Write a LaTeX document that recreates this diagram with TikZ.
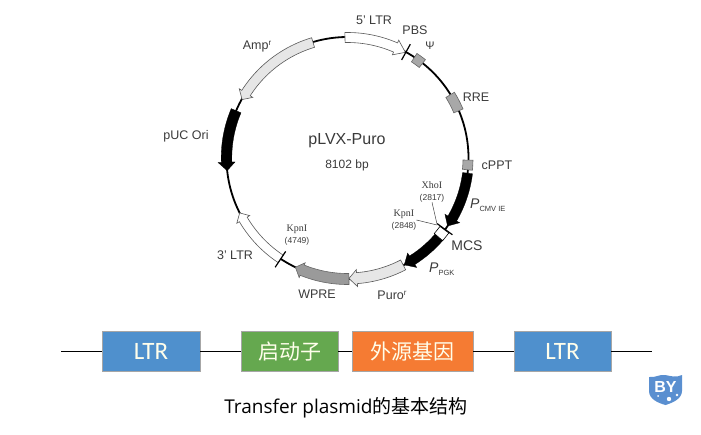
\documentclass[tikz,border=0pt]{standalone}
\usepackage{fontspec}
\setmainfont{Liberation Sans}
\newfontfamily\serifx{Liberation Serif}
\newfontfamily\cjkf{Noto Sans CJK SC}
\newfontfamily\capf{Open Sans}
\newfontfamily\boxf{Carlito}
\definecolor{ink}{HTML}{3A3A3A}
\definecolor{ltrblue}{HTML}{4F90CD}
\definecolor{promgreen}{HTML}{65A84F}
\definecolor{geneorange}{HTML}{F57B33}
\definecolor{logoblue}{HTML}{5A8FD0}
\definecolor{featgrey}{HTML}{A8A8A8}
\definecolor{paleg}{HTML}{E6E6E6}
\definecolor{wpreg}{HTML}{9A9A9A}
\newcommand{\Pol}[2]{({347.5+(#2)*sin(#1)},{158-(#2)*cos(#1)})}
% style, tail angle, head start angle, tip angle, half width, head half width, radius
\newcommand{\plasarrow}[7]{%
  \path[#1] plot[domain=#2:#3,samples=24,smooth] ({347.5+(#7+#5)*sin(\x)},{158-(#7+#5)*cos(\x)})
    -- \Pol{#3}{#7+#6} -- \Pol{#4}{#7} -- \Pol{#3}{#7-#6}
    -- plot[domain=#3:#2,samples=24,smooth] ({347.5+(#7-#5)*sin(\x)},{158-(#7-#5)*cos(\x)}) -- cycle;}
\newcommand{\plasbox}[5]{%
  \path[#1] plot[domain=#2:#3,samples=8] ({347.5+(#4+#5)*sin(\x)},{158-(#4+#5)*cos(\x)})
    -- plot[domain=#3:#2,samples=8] ({347.5+(#4-#5)*sin(\x)},{158-(#4-#5)*cos(\x)}) -- cycle;}
\newcommand{\sitelabel}[2]{{\serifx\fontsize{10}{11}\selectfont #1}\\[-0.5pt]{\fontsize{8.5}{10}\selectfont #2}}
\tikzset{
  x=1pt,y=-1pt,
  backbone/.style={draw=black,line width=1.8pt},
  whitearrow/.style={draw=black!65,fill=white,line width=0.6pt},
  palearrow/.style={draw=black!65,fill=paleg,line width=0.6pt},
  darkarrow/.style={draw=black!60,fill=wpreg,line width=0.6pt},
  blackarrow/.style={draw=black,fill=black,line width=0.3pt},
  feature/.style={draw=black!60,fill=featgrey,line width=0.6pt},
  sitebox/.style={draw=black,fill=white,line width=0.6pt},
  tick/.style={draw=black,line width=1.2pt},
  leader/.style={draw=black!75,line width=0.5pt},
  lab/.style={text=ink,font=\fontsize{12.5}{14}\selectfont,inner sep=0pt},
  site/.style={text=ink,inner sep=0pt,align=center},
  elem/.style={draw=black!35,minimum height=40pt,inner sep=0pt,text=white!92!yellow},
  wire/.style={draw=black,line width=1.5pt},
}
\begin{document}
\begin{tikzpicture}
\useasboundingbox (0,0) rectangle (701,434);
\path[backbone] \Pol{0}{121} plot[domain=0:360,samples=120,smooth] ({347.5+121*sin(\x)},{158-121*cos(\x)}) -- cycle;
% features
\plasarrow{whitearrow}{-1.2}{23.5}{28.7}{5}{8}{120.5}
\plasarrow{palearrow}{343.4}{302.6}{299}{5}{8}{120.5}
\plasarrow{blackarrow}{293}{268}{264}{5.3}{8.5}{121}
\plasarrow{whitearrow}{213.5}{239.5}{243}{4.5}{7.5}{121}
\plasarrow{darkarrow}{179.3}{202}{205.5}{5.5}{8}{121}
\plasarrow{palearrow}{152.5}{175.5}{179.3}{5.5}{8.5}{120.5}
\plasarrow{blackarrow}{97.2}{120}{124.2}{5}{8.5}{121}
\plasarrow{blackarrow}{130}{147.7}{152}{5}{8.5}{121}
\plasbox{feature}{33.6}{38.4}{120.5}{5}
\plasbox{feature}{58.4}{67}{120.5}{5}
\plasbox{feature}{91}{95.6}{120.5}{5}
\plasbox{sitebox}{126.5}{131}{120.5}{5.5}
\draw[tick] \Pol{28.9}{112} -- \Pol{28.9}{130};
\draw[tick] \Pol{126.2}{111} -- \Pol{126.2}{130};
\draw[tick] \Pol{213.5}{112} -- \Pol{213.5}{131};
% texts
\node[lab] (t5ltr) at (374,20) {5' LTR};
\node[lab] (tpbs) at (415,30) {PBS};
\node[lab,font=\fontsize{11}{12}\selectfont] (tpsi) at (430,46) {Ψ};
\node[lab] (trre) at (476,97) {RRE};
\node[lab] (tcppt) at (497,165) {cPPT};
\node[lab] (tamp) at (257,46) {Amp\raisebox{4pt}{\fontsize{8}{9}\selectfont r}};
\node[lab] (tpuc) at (186,136) {pUC Ori};
\node[lab,font=\fontsize{16}{18}\selectfont] (tname) at (347,141) {pLVX-Puro};
\node[lab,font=\fontsize{12}{14}\selectfont] (tbp) at (347,165) {8102 bp};
\node[lab,anchor=west] (tcmv) at (470,205) {\fontsize{14}{15}\selectfont\itshape P\raisebox{-3pt}{\upshape\fontsize{7.5}{8}\selectfont CMV IE}};
\node[lab,font=\fontsize{14}{15}\selectfont] (tmcs) at (467,246) {MCS};
\node[lab,anchor=west] (tpgk) at (429,269) {\fontsize{14}{15}\selectfont\itshape P\raisebox{-3pt}{\upshape\fontsize{7.5}{8}\selectfont PGK}};
\node[lab] (tpuro) at (392,295) {Puro\raisebox{4pt}{\fontsize{8}{9}\selectfont r}};
\node[lab] (twpre) at (317,294) {WPRE};
\node[lab] (t3ltr) at (235,255) {3' LTR};
\node[site] (txho) at (432,192) {\sitelabel{XhoI}{(2817)}};
\node[site] (tkpn) at (404,220) {\sitelabel{KpnI}{(2848)}};
\node[site] (tkpnb) at (297,235) {\sitelabel{KpnI}{(4749)}};
\coordinate (xhoend) at (437,224);
\coordinate (kpnend) at (437,225);
\draw[leader] (txho.south) -- (xhoend);
\draw[leader] (tkpn.east) -- (kpnend);
% linear map
\coordinate (wstart) at (61,351.5);
\coordinate (wend) at (652,351.5);
\node[elem,fill=ltrblue,minimum width=98pt,font=\boxf\fontsize{25}{28}\selectfont] (ltra) at (151,351.5) {LTR};
\node[elem,fill=promgreen,minimum width=97pt,font=\cjkf\fontsize{21}{24}\selectfont] (prom) at (289.5,351.5) {启动子};
\node[elem,fill=geneorange,minimum width=121pt,font=\cjkf\fontsize{21}{24}\selectfont] (gene) at (412.5,351.5) {外源基因};
\node[elem,fill=ltrblue,minimum width=97pt,font=\boxf\fontsize{25}{28}\selectfont] (ltrb) at (562.5,351.5) {LTR};
\draw[wire] (wstart) -- (ltra);
\draw[wire] (ltra) -- (prom);
\draw[wire] (prom) -- (gene);
\draw[wire] (gene) -- (ltrb);
\draw[wire] (ltrb) -- (wend);
\node[inner sep=0pt,text=black] (tcap) at (346,408) {\capf\fontsize{19}{22}\selectfont Transfer plasmid{\cjkf 的基本结构}};
% logo
\path[fill=logoblue] (649,377) .. controls (655,378) and (660,374) .. (665,375)
  .. controls (671,376) and (676,378) .. (682,375) -- (682,391)
  .. controls (682,399) and (672,403) .. (665.5,405)
  .. controls (658,403) and (649,399) .. (649,391) -- cycle;
\node[inner sep=0pt,text=white,font=\bfseries\fontsize{16}{17}\selectfont] (tby) at (665.5,387) {BY};
\fill[white] (669,399) circle (2.2pt);
\fill[white] (658,396) circle (1pt);
\fill[white] (677,395) circle (1.3pt);
\end{tikzpicture}
\end{document}
